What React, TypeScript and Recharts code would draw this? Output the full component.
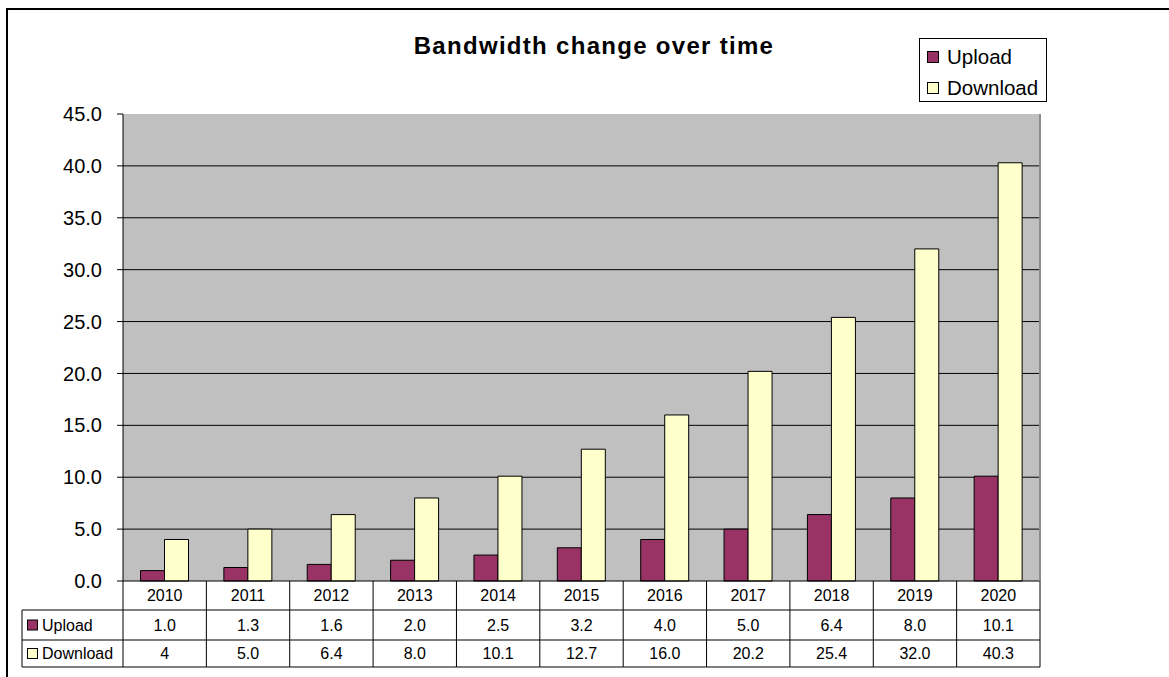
import React from 'react';
import { BarChart, Bar, XAxis, YAxis, CartesianGrid } from 'recharts';

// table cells as printed under the chart; bar heights are parsed from them
const years = ['2010', '2011', '2012', '2013', '2014', '2015', '2016', '2017', '2018', '2019', '2020'];
const uploadCells = ['1.0', '1.3', '1.6', '2.0', '2.5', '3.2', '4.0', '5.0', '6.4', '8.0', '10.1'];
const downloadCells = ['4', '5.0', '6.4', '8.0', '10.1', '12.7', '16.0', '20.2', '25.4', '32.0', '40.3'];
const yTicks = [0, 5, 10, 15, 20, 25, 30, 35, 40, 45];

const UPLOAD = '#993366';
const DOWNLOAD = '#FFFFCC';
const FONT = '"Liberation Sans", Arial, sans-serif';

const W = 1169;
const H = 677;
const M = { top: 114, right: 129, bottom: 10, left: 0 };
const Y_W = 123;
const X_H = 86;
const PLOT_W = W - M.left - M.right - Y_W;
const PLOT_H = H - M.top - M.bottom - X_H;
const COL_W = PLOT_W / years.length;
const ROWS = [29, 30, 27];
const TABLE_LEFT = 22;

const data = years.map((year, i) => ({
  year,
  upload: Number(uploadCells[i]),
  download: Number(downloadCells[i]),
}));

// draws one column of the data table under each category, plus the row headers
const TableTick = (props: any) => {
  const { x, y, index } = props;
  const left = x - COL_W / 2;
  const right = x + COL_W / 2;
  const r1 = y + ROWS[0];
  const r2 = r1 + ROWS[1];
  const r3 = r2 + ROWS[2];
  const last = index === years.length - 1;
  const txt = { fontFamily: FONT, fontSize: 16, fill: '#000', textAnchor: 'middle' as const, dominantBaseline: 'central' as const };
  return (
    <g>
      <line x1={right} y1={y} x2={right} y2={r3} stroke="#000" />
      <line x1={left} y1={r1} x2={right} y2={r1} stroke="#000" />
      <line x1={left} y1={r2} x2={right} y2={r2} stroke="#000" />
      <line x1={left} y1={r3} x2={right} y2={r3} stroke="#000" />
      <text x={x} y={(y + r1) / 2} {...txt}>{years[index]}</text>
      <text x={x} y={(r1 + r2) / 2} {...txt}>{uploadCells[index]}</text>
      <text x={x} y={(r2 + r3) / 2} {...txt}>{downloadCells[index]}</text>
      {last && <line x1={right} y1={y - PLOT_H} x2={right} y2={y} stroke="#8c8c8c" strokeWidth={2} />}
      {index === 0 && (
        <g>
          <line x1={left} y1={y} x2={left} y2={r3} stroke="#000" />
          <line x1={TABLE_LEFT} y1={r1} x2={left} y2={r1} stroke="#000" />
          <line x1={TABLE_LEFT} y1={r2} x2={left} y2={r2} stroke="#000" />
          <line x1={TABLE_LEFT} y1={r3} x2={left} y2={r3} stroke="#000" />
          <line x1={TABLE_LEFT} y1={r1} x2={TABLE_LEFT} y2={r3} stroke="#000" />
          <rect x={27.5} y={(r1 + r2) / 2 - 5} width={10} height={10} fill={UPLOAD} stroke="#000" />
          <text x={42} y={(r1 + r2) / 2} {...txt} textAnchor="start">Upload</text>
          <rect x={27.5} y={(r2 + r3) / 2 - 5} width={10} height={10} fill={DOWNLOAD} stroke="#000" />
          <text x={42} y={(r2 + r3) / 2} {...txt} textAnchor="start">Download</text>
        </g>
      )}
    </g>
  );
};

const legendItems = [
  { name: 'Upload', color: UPLOAD },
  { name: 'Download', color: DOWNLOAD },
];

const App: React.FC = () => {
  return (
    <div style={{ position: 'absolute', left: 0, top: 0, width: W, height: H, overflow: 'hidden', background: '#fff' }}>
      <div style={{ position: 'absolute', left: 6, top: 8, width: W - 6, height: H - 8, borderLeft: '2px solid #000', borderTop: '2px solid #000', boxSizing: 'border-box' }} />
      <BarChart
        width={W}
        height={H}
        data={data}
        margin={M}
        barCategoryGap="21%"
        barGap={0}
      >
        <CartesianGrid fill="#C0C0C0" stroke="#000" vertical={false} horizontalValues={[5, 10, 15, 20, 25, 30, 35, 40]} />
        <XAxis
          dataKey="year"
          height={X_H}
          interval={0}
          tickLine={false}
          tickSize={0}
          tickMargin={0}
          axisLine={{ stroke: '#000' }}
          tick={<TableTick />}
        />
        <YAxis
          width={Y_W}
          domain={[0, 45]}
          ticks={yTicks}
          tickFormatter={(v: number) => v.toFixed(1)}
          tick={{ fontFamily: FONT, fontSize: 20, fill: '#000' }}
          tickSize={6}
          tickMargin={15}
          axisLine={{ stroke: '#000' }}
          tickLine={{ stroke: '#000' }}
          interval={0}
        />
        <Bar dataKey="upload" name="Upload" fill={UPLOAD} stroke="#000" strokeWidth={1} isAnimationActive={false} />
        <Bar dataKey="download" name="Download" fill={DOWNLOAD} stroke="#000" strokeWidth={1} isAnimationActive={false} />
      </BarChart>
      <div style={{ position: 'absolute', left: 294, top: 34, width: 600, lineHeight: '24px', textAlign: 'center', fontFamily: FONT, fontSize: 24, fontWeight: 'bold', letterSpacing: '1.3px' }}>
        Bandwidth change over time
      </div>
      <div style={{ position: 'absolute', left: 919, top: 38, width: 128, height: 64, border: '1px solid #000', boxSizing: 'border-box', background: '#fff', fontFamily: FONT, fontSize: 20.5 }}>
        {legendItems.map((item, i) => (
          <div key={item.name} style={{ position: 'absolute', left: 7, top: 3 + i * 31, height: 30, display: 'flex', alignItems: 'center' }}>
            <span style={{ width: 10, height: 10, background: item.color, border: '1px solid #000', marginRight: 8 }} />
            <span>{item.name}</span>
          </div>
        ))}
      </div>
    </div>
  );
};

export default App;
